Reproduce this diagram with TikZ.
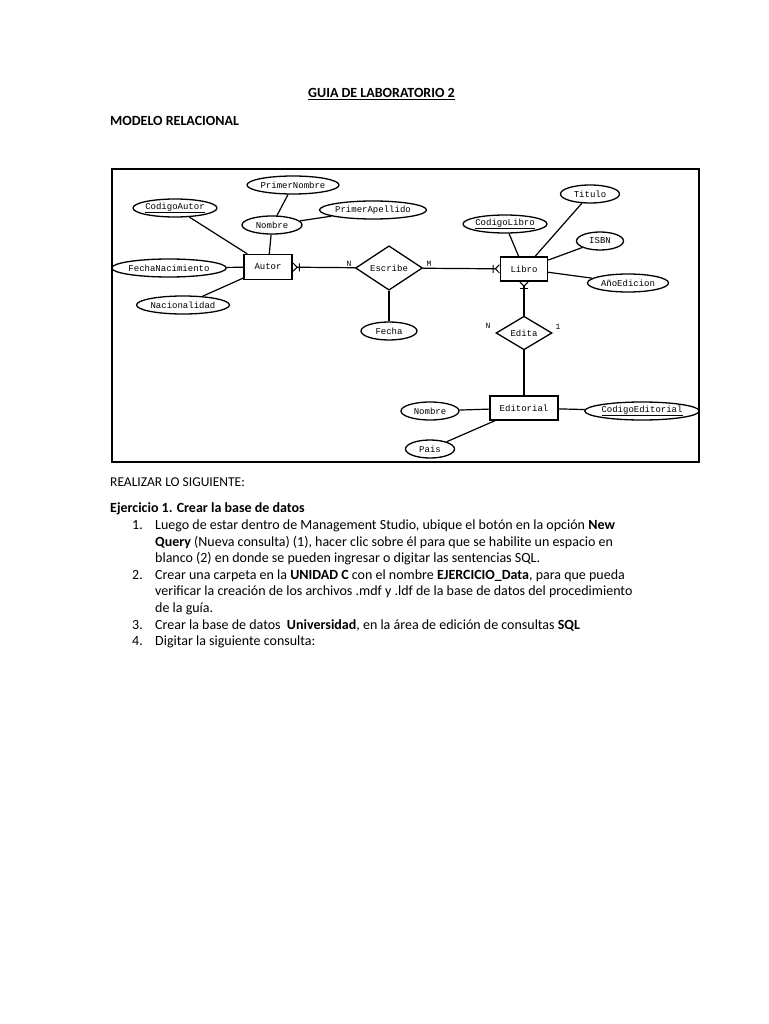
\documentclass[tikz,border=0pt]{standalone}
\usepackage{fontspec}
\setmainfont{Carlito}
\newfontfamily\erfont{Liberation Mono}
\usetikzlibrary{arrows.meta,shapes.geometric}

\begin{document}
\begin{tikzpicture}[x=1pt,y=-1pt,>=Latex,
  atrib/.style={ellipse,draw,line width=1.3pt,inner sep=0pt,minimum height=18pt,font=\erfont\fontsize{9}{10}\selectfont},
  entidad/.style={rectangle,draw,line width=1.3pt,inner sep=0pt,minimum width=48pt,minimum height=25pt,font=\erfont\fontsize{9}{10}\selectfont},
  relacion/.style={diamond,draw,line width=1.3pt,inner sep=0pt,font=\erfont\fontsize{9}{10}\selectfont},
  muchos/.style={-{Bar[width=8pt,line width=1pt,sep=1pt]Straight Barb[reversed,length=4pt,width=8pt,line width=1pt]}},
  card/.style={inner sep=0pt,font=\erfont\fontsize{8}{9}\selectfont},
  linea/.style={line width=1.2pt},
  txt/.style={anchor=base west,inner sep=0pt,font=\fontsize{14}{16}\selectfont}]
\useasboundingbox[fill=white] (0,0) rectangle (768,1024);

% encabezado
\node[txt,font=\fontsize{14}{16}\selectfont\bfseries] (guia) at (308,98) {\underline{GUIA DE LABORATORIO 2}};
\node[txt,font=\fontsize{14}{16}\selectfont\bfseries] (modelo) at (110,126) {MODELO RELACIONAL};

% diagrama entidad-relacion
\draw[line width=2pt] (112,169) rectangle (699,462);
\node[entidad] (autor) at (268,267) {Autor};
\node[entidad,minimum width=47pt,minimum height=24pt] (libro) at (524,269) {Libro};
\node[entidad,minimum width=68pt,minimum height=24pt] (editorial) at (524,408) {Editorial};
\node[relacion,minimum width=67pt,minimum height=38pt] (escribe) at (389,268) {Escribe};
\node[relacion,minimum width=56pt,minimum height=31pt] (edita) at (524,333) {Edita};

\foreach \n/\x/\y/\w/\t in {codautor/175/208/74/\underline{CodigoAutor},
    primnombre/293/185/92/PrimerNombre, nombre/272/225/60/Nombre,
    primapellido/373/210/104/PrimerApellido, fechanac/169/268/108/FechaNacimiento,
    nacionalidad/183/305/93/Nacionalidad, fecha/389/331/56/Fecha,
    codlibro/505/224/84/\underline{CodigoLibro}, tit/590/194/59/Titulo,
    isbn/600/241/47/ISBN, anioed/628/283/81/AñoEdicion,
    nombreed/430/411/58/Nombre, codeditorial/642/411/108/\underline{CodigoEditorial},
    pais/430/449/49/Pais}
  \node[atrib,minimum width=\w pt] (\n) at (\x,\y) {\t};

\foreach \a/\b in {codautor/autor, nombre/autor, primnombre/nombre, primapellido/nombre,
    fechanac/autor, nacionalidad/autor, escribe/fecha, codlibro/libro, tit/libro,
    isbn/libro, anioed/libro, edita/editorial, nombreed/editorial,
    codeditorial/editorial, pais/editorial}
  \draw[linea] (\a) -- (\b);

\draw[linea,muchos] (escribe) -- (autor);
\draw[linea,muchos] (escribe) -- (libro);
\draw[linea,muchos] (edita) -- (libro);

\node[card] (cn1) at (349,264) {N};
\node[card] (cm) at (429,264) {M};
\node[card] (cn2) at (488,326) {N};
\node[card] (cuno) at (558,327) {1};

% texto
\node[txt,font=\fontsize{13.5}{16}\selectfont] (realizar) at (110,486.5) {REALIZAR LO SIGUIENTE:};
\node[txt,font=\fontsize{14}{16}\selectfont\bfseries] (ejercicio) at (110,512) {Ejercicio 1. Crear la base de datos};
\foreach \k/\t in {1/1., 4/2., 7/3., 8/4.}
  \node[txt] (num\k) at (132,{529.5+16.6*(\k-1)}) {\t};
\foreach \k/\t in {1/{Luego de estar dentro de Management Studio, ubique el botón en la opción \textbf{New}},
    2/{\textbf{Query} (Nueva consulta) (1), hacer clic sobre él para que se habilite un espacio en},
    3/{blanco (2) en donde se pueden ingresar o digitar las sentencias SQL.},
    4/{Crear una carpeta en la \textbf{UNIDAD C} con el nombre \textbf{EJERCICIO\_Data}, para que pueda},
    5/{verificar la creación de los archivos .mdf y .ldf de la base de datos del procedimiento},
    6/{de la guía.},
    7/{Crear la base de datos\ \ \textbf{Universidad}, en la área de edición de consultas \textbf{SQL}},
    8/{Digitar la siguiente consulta:}}
  \node[txt] (linea\k) at (155,{529.5+16.6*(\k-1)}) {\t};
\end{tikzpicture}
\end{document}
